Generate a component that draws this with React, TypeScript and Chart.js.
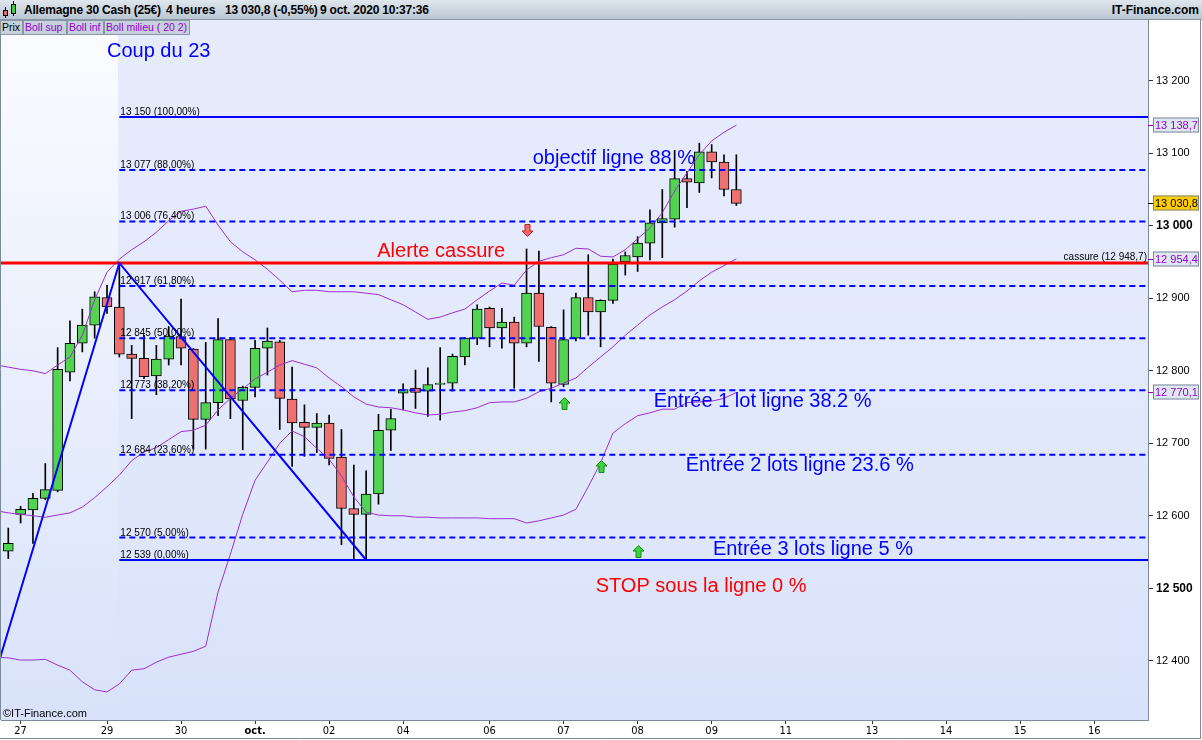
import React, { useEffect, useRef } from 'react';
import { Chart, registerables } from 'chart.js';

Chart.register(...registerables);

const FONT = '"Liberation Sans", Arial, sans-serif';
const NARROW = '"Liberation Sans Narrow", "DejaVu Sans Condensed", "Liberation Sans", Arial, sans-serif';

// ---- Candles (4h, index 0..59) ----
const opens = [12551, 12602, 12608, 12624, 12635, 12798, 12838, 12863, 12901, 12888,
  12823, 12817, 12793, 12816, 12847, 12830, 12733, 12756, 12843, 12759,
  12777, 12831, 12840, 12761, 12729, 12722, 12728, 12681, 12610, 12602,
  12630, 12718, 12769, 12776, 12772, 12781, 12783, 12819, 12845, 12886,
  12859, 12867, 12838, 12907, 12860, 12781, 12845, 12901, 12881, 12897,
  12950, 12957, 12976, 13004, 13009, 13065, 13059, 13102, 13088, 13050];
const highs = [12583, 12613, 12631, 12672, 12832, 12869, 12885, 12909, 12918, 12948.7,
  12835, 12849, 12835, 12861, 12899, 12831, 12839, 12872, 12846, 12779,
  12842, 12859, 12842, 12805, 12753, 12741, 12739, 12719, 12670, 12662,
  12740, 12747, 12782, 12801, 12804, 12832, 12823, 12846, 12891, 12888,
  12886, 12874, 12968, 12965, 12861, 12884, 12907, 12960, 12898, 12954,
  12964, 12985, 13022, 13050, 13104, 13075, 13114, 13112, 13098, 13098];
const lows = [12541, 12590, 12562, 12622, 12633, 12786, 12826, 12845, 12879, 12819,
  12734, 12789, 12767, 12808, 12808, 12692, 12692, 12738, 12734, 12691,
  12764, 12794, 12719, 12668, 12682, 12687, 12670, 12560, 12541, 12539,
  12616, 12690, 12746, 12748, 12737, 12732, 12772, 12808, 12836, 12833,
  12831, 12776, 12833, 12813, 12757, 12778, 12841, 12849, 12833, 12893,
  12932, 12937, 12953, 12956, 12998, 13025, 13046, 13066, 13041, 13028];
const closes = [12562, 12609, 12624, 12636, 12802, 12838, 12863, 12902, 12888, 12823,
  12817, 12792, 12816, 12848, 12831, 12733, 12756, 12843, 12761, 12777,
  12831, 12841, 12762, 12728, 12722, 12728, 12679, 12610, 12602, 12630,
  12718, 12734, 12774, 12770, 12781, 12783, 12820, 12845, 12885, 12859,
  12867, 12838, 12907, 12861, 12783, 12843, 12901, 12881, 12897, 12947,
  12959, 12976, 13004, 13010, 13065, 13060, 13102, 13088, 13050, 13030.8];

// ---- Bollinger (20, 2), index -1..59 ----
const bandStartIdx = -1;
const bollSup = [12808, 12805, 12802, 12800, 12796, 12808, 12819, 12849, 12898, 12936,
  12954, 12967, 12978, 12991, 13007, 13020, 13023, 13027, 13001, 12978,
  12964, 12953, 12940, 12925, 12909, 12911, 12911, 12909, 12909, 12909,
  12907, 12905, 12898, 12891, 12881, 12871, 12874, 12880, 12885, 12898,
  12910, 12921, 12918, 12939, 12951, 12956, 12960, 12969, 12968, 12958,
  12957, 12967, 12982, 12997, 13018, 13048, 13073, 13098, 13117, 13129, 13138.7];
const bollMid = [12607, 12604, 12602, 12600, 12598, 12601, 12604, 12612, 12625, 12640,
  12656, 12676, 12688, 12694, 12705, 12716, 12718, 12725, 12746, 12762,
  12775, 12789, 12798, 12808, 12814, 12809, 12804, 12790, 12778, 12764,
  12754, 12750, 12749, 12746, 12742, 12739, 12740, 12743, 12745, 12749,
  12756, 12757, 12757, 12762, 12771, 12776, 12783, 12790, 12805, 12819,
  12833, 12849, 12863, 12877, 12888, 12898, 12910, 12924, 12936, 12945, 12954.4];
const bollInf = [12405, 12404, 12401, 12401, 12402, 12394, 12387, 12371, 12360, 12357,
  12368, 12387, 12389, 12398, 12405, 12409, 12413, 12420, 12495, 12547,
  12602, 12649, 12674, 12700, 12717, 12709, 12693, 12678, 12655, 12626,
  12605, 12601, 12600, 12600, 12598, 12598, 12597, 12597, 12597, 12597,
  12596, 12596, 12596, 12590, 12593, 12597, 12601, 12609, 12640, 12673,
  12714, 12727, 12738, 12742, 12747, 12747, 12756, 12757, 12758, 12762, 12770.1];

// ---- Fibonacci retracement ----
const fibValues = [13150, 13077, 13006, 12917, 12845, 12773, 12684, 12570, 12539];
const fibPercents = ['100,00', '88,00', '76,40', '61,80', '50,00', '38,20', '23,60', '5,00', '0,00'];
const fibSolid = [true, false, false, false, false, false, false, false, true];
const fibStartIdx = 9;

// ---- Swing (trend) lines & break level ----
const swingIdx = [-1, 9, 29];
const swingVals = [12385, 12948.7, 12539];
const breakLevel = 12948.7;

// ---- Axes ----
const xMin = -0.59;
const xMax = 92.36;
const yMin = 12318.3;
const yMax = 13285.2;
const dateTickIdx = [1, 8, 14, 20, 26, 32, 39, 45, 51, 57, 63, 70, 76, 82, 88];
const dateTickLabels = ['27', '29', '30', 'oct.', '02', '04', '06', '07', '08', '09', '11', '13', '14', '15', '16'];
const yTicks = [12400, 12500, 12600, 12700, 12800, 12900, 13000, 13100, 13200];
const yBoldTicks = [12500, 13000];

// ---- Annotations ----
const noteTexts = ['Coup du 23', 'objectif ligne 88 %', 'Alerte cassure', 'Entrée 1 lot ligne 38.2 %',
  'Entrée 2 lots ligne 23.6 %', 'Entrée 3 lots ligne 5 %', 'STOP sous la ligne 0 %'];
const noteIdx = [8.0, 42.5, 29.9, 52.3, 54.9, 57.1, 47.6];
const noteVals = [13240, 13093, 12965, 12758, 12669, 12554, 12502];
const noteColors = ['#0000ff', '#0000ff', '#ff0000', '#0000ff', '#0000ff', '#0000ff', '#ff0000'];

const arrowIdx = [42, 45, 48, 51];
const arrowVals = [12994, 12755, 12668, 12551];
const arrowUp = [false, true, true, true];

function fmt(v: number, dec: number) {
  const s = v.toFixed(dec);
  const parts = s.split('.');
  const intp = parts[0].replace(/\B(?=(\d{3})+(?!\d))/g, ' ');
  return parts[1] ? intp + ',' + parts[1] : intp;
}

function drawArrow(ctx: CanvasRenderingContext2D, cx: number, cy: number, up: boolean) {
  const s = up ? 1 : -1;
  ctx.save();
  ctx.translate(Math.round(cx) + 0.5, Math.round(cy) + 0.5);
  ctx.beginPath();
  ctx.moveTo(0, -6 * s);
  ctx.lineTo(5.5, -0.5 * s);
  ctx.lineTo(2.5, -0.5 * s);
  ctx.lineTo(2.5, 6 * s);
  ctx.lineTo(-2.5, 6 * s);
  ctx.lineTo(-2.5, -0.5 * s);
  ctx.lineTo(-5.5, -0.5 * s);
  ctx.closePath();
  ctx.fillStyle = up ? '#3fd23f' : '#f26b6b';
  ctx.fill();
  ctx.strokeStyle = up ? '#138a13' : '#c02020';
  ctx.lineWidth = 1;
  ctx.stroke();
  ctx.restore();
}

const overlayPlugin = {
  id: 'overlay',
  beforeDraw(chart: any) {
    const { ctx, chartArea: a, scales } = chart;
    const x = scales.x;
    ctx.save();
    ctx.fillStyle = '#ffffff';
    ctx.fillRect(0, 0, chart.width, chart.height);
    const g = ctx.createLinearGradient(0, a.top, 0, a.bottom);
    g.addColorStop(0, '#fbfcff');
    g.addColorStop(1, '#d8e2fa');
    ctx.fillStyle = g;
    ctx.fillRect(a.left, a.top, a.right - a.left, a.bottom - a.top);
    const fx = Math.round(x.getPixelForValue(fibStartIdx)) - 1;
    const g2 = ctx.createLinearGradient(0, a.top, 0, a.bottom);
    g2.addColorStop(0, 'rgba(200,212,248,0.42)');
    g2.addColorStop(1, 'rgba(200,212,248,0.02)');
    ctx.fillStyle = g2;
    ctx.fillRect(fx, a.top, a.right - fx, a.bottom - a.top);
    ctx.restore();
  },
  afterDatasetsDraw(chart: any) {
    const { ctx, chartArea: a, scales } = chart;
    const x = scales.x;
    const y = scales.y;
    ctx.save();
    // fib labels
    ctx.font = '10px ' + FONT;
    ctx.fillStyle = '#000';
    ctx.textAlign = 'left';
    ctx.textBaseline = 'alphabetic';
    const fx = x.getPixelForValue(fibStartIdx);
    fibValues.forEach((v, i) => {
      ctx.fillText(fmt(v, 0) + ' (' + fibPercents[i] + '%)', fx + 1, y.getPixelForValue(v) - 2);
    });
    // break label
    ctx.textAlign = 'right';
    ctx.fillText('cassure (' + fmt(breakLevel, 1) + ')', a.right - 1, y.getPixelForValue(breakLevel) - 3);
    // annotations
    ctx.font = '20px ' + FONT;
    ctx.textAlign = 'left';
    ctx.textBaseline = 'middle';
    noteTexts.forEach((t, i) => {
      ctx.fillStyle = noteColors[i];
      ctx.fillText(t, x.getPixelForValue(noteIdx[i]), y.getPixelForValue(noteVals[i]));
    });
    // arrows
    arrowIdx.forEach((ix, i) => {
      drawArrow(ctx, x.getPixelForValue(ix), y.getPixelForValue(arrowVals[i]), arrowUp[i]);
    });
    // copyright
    ctx.font = '11px ' + FONT;
    ctx.fillStyle = '#000';
    ctx.textAlign = 'left';
    ctx.textBaseline = 'middle';
    ctx.fillText('©IT-Finance.com', a.left + 2, a.bottom - 6);
    ctx.restore();
  },
  afterDraw(chart: any) {
    const { ctx, chartArea: a, scales } = chart;
    const y = scales.y;
    ctx.save();
    // frame
    ctx.strokeStyle = '#7b8a99';
    ctx.lineWidth = 1;
    ctx.beginPath();
    ctx.moveTo(0.5, a.top);
    ctx.lineTo(0.5, a.bottom);
    ctx.moveTo(1200.5, 0);
    ctx.lineTo(1200.5, 739);
    ctx.moveTo(0, 738.5);
    ctx.lineTo(1201, 738.5);
    ctx.stroke();
    // value boxes
    const boxes = [
      { v: bollSup[bollSup.length - 1], bg: '#dfe7f1', fg: '#9400d3' },
      { v: closes[closes.length - 1], bg: '#ffcc00', fg: '#000000' },
      { v: bollMid[bollMid.length - 1], bg: '#dfe7f1', fg: '#9400d3' },
      { v: bollInf[bollInf.length - 1], bg: '#dfe7f1', fg: '#9400d3' },
    ];
    ctx.font = '11px ' + FONT;
    ctx.textBaseline = 'middle';
    ctx.textAlign = 'left';
    boxes.forEach((b) => {
      const py = Math.round(y.getPixelForValue(b.v));
      const x0 = a.right + 5;
      ctx.fillStyle = b.bg;
      ctx.fillRect(x0, py - 7.5, 46, 15);
      ctx.strokeStyle = '#7b8a99';
      ctx.strokeRect(x0 + 0.5, py - 7, 45, 14);
      ctx.strokeStyle = b.fg;
      ctx.beginPath();
      ctx.moveTo(a.right, py + 0.5);
      ctx.lineTo(x0, py + 0.5);
      ctx.stroke();
      ctx.fillStyle = b.fg;
      ctx.fillText(fmt(b.v, 1), x0 + 2, py + 0.5);
    });
    ctx.restore();
  },
};

export default function App() {
  const ref = useRef<HTMLCanvasElement>(null);

  useEffect(() => {
    document.body.style.margin = '0';
    Chart.defaults.font.family = FONT;
    const idx = opens.map((_, i) => i);
    const wickData = idx.map((i) => ({ x: i, y: [lows[i], highs[i]] }));
    const bodyData = idx.map((i) => ({ x: i, y: [opens[i], closes[i]] }));
    const bodyColors = idx.map((i) => (closes[i] >= opens[i] ? '#52d452' : '#ec7272'));
    const band = (arr: number[]) => arr.map((v, k) => ({ x: k + bandStartIdx, y: v }));
    const lineBase = { type: 'line', pointRadius: 0, fill: false, tension: 0 };

    const datasets: any[] = [
      {
        type: 'bar', data: wickData, backgroundColor: '#000', barThickness: 1,
        grouped: false, order: 10, borderWidth: 0,
      },
      {
        type: 'bar', data: bodyData, backgroundColor: bodyColors, borderColor: '#000',
        borderWidth: 1, borderSkipped: false, barThickness: 10, grouped: false, order: 9,
      },
      { ...lineBase, data: band(bollSup), borderColor: '#9b30d0', borderWidth: 1, order: 5 },
      { ...lineBase, data: band(bollInf), borderColor: '#9b30d0', borderWidth: 1, order: 5 },
      { ...lineBase, data: band(bollMid), borderColor: '#9b30d0', borderWidth: 1, order: 5 },
    ];
    fibValues.forEach((v, i) => {
      datasets.push({
        ...lineBase,
        data: [{ x: fibStartIdx, y: v }, { x: xMax, y: v }],
        borderColor: '#0000ff', borderWidth: 2,
        borderDash: fibSolid[i] ? [] : [6, 4], order: 4,
      });
    });
    datasets.push({
      ...lineBase,
      data: [{ x: xMin, y: breakLevel }, { x: xMax, y: breakLevel }],
      borderColor: '#ff0000', borderWidth: 3, order: 3,
    });
    datasets.push({
      ...lineBase,
      data: swingIdx.map((ix, i) => ({ x: ix, y: swingVals[i] })),
      borderColor: '#0000ff', borderWidth: 2, order: 2,
    });

    const chart = new Chart(ref.current as HTMLCanvasElement, {
      type: 'bar',
      data: { datasets },
      plugins: [overlayPlugin],
      options: {
        animation: false,
        responsive: false,
        devicePixelRatio: 1,
        events: [],
        layout: { padding: { top: 19, left: 1, right: 0, bottom: 0 } },
        plugins: { legend: { display: false }, tooltip: { enabled: false } },
        scales: {
          x: {
            type: 'linear', min: xMin, max: xMax, offset: false,
            afterBuildTicks: (s: any) => { s.ticks = dateTickIdx.map((v) => ({ value: v })); },
            afterFit: (s: any) => { s.height = 20; },
            grid: { offset: false, drawOnChartArea: false, drawTicks: true, tickLength: 4, tickColor: '#333' },
            border: { display: true, color: '#7b8a99' },
            ticks: {
              autoSkip: false, maxRotation: 0, padding: 1, color: '#000',
              callback: (v: any) => {
                const k = dateTickIdx.indexOf(Number(v));
                return k >= 0 ? dateTickLabels[k] : '';
              },
              font: (c: any) => ({
                family: NARROW, size: 11,
                weight: c.tick && c.tick.value === 20 ? 'bold' : 'normal',
              }),
            },
          },
          y: {
            type: 'linear', position: 'right', min: yMin, max: yMax,
            afterBuildTicks: (s: any) => { s.ticks = yTicks.map((v) => ({ value: v })); },
            afterFit: (s: any) => { s.width = 54; },
            grid: { offset: false, drawOnChartArea: false, drawTicks: true, tickLength: 5, tickColor: '#333' },
            border: { display: true, color: '#7b8a99' },
            ticks: {
              padding: 3, color: '#000',
              callback: (v: any) => fmt(Number(v), 0),
              font: (c: any) => {
                const b = c.tick && yBoldTicks.includes(c.tick.value);
                return { family: FONT, size: b ? 12 : 11, weight: b ? 'bold' : 'normal' };
              },
            },
          },
        },
      } as any,
    } as any);
    return () => chart.destroy();
  }, []);

  const tab = (left: number, width: number, color: string): React.CSSProperties => ({
    position: 'absolute', left, top: 20, width, height: 15, boxSizing: 'border-box',
    background: '#c6d1db', border: '1px solid #8797a6', color, font: '10.5px ' + FONT,
    lineHeight: '13px', paddingLeft: 1, whiteSpace: 'nowrap', overflow: 'hidden',
  });
  const hdr = (left: number): React.CSSProperties => ({
    position: 'absolute', left, top: 3, font: 'bold 12px ' + FONT, color: '#000', whiteSpace: 'pre',
  });

  return (
    <div style={{ position: 'relative', width: 1202, height: 740, overflow: 'hidden', background: '#fff' }}>
      <canvas ref={ref} width={1202} height={740} style={{ position: 'absolute', left: 0, top: 0, width: 1202, height: 740 }} />
      <div style={{
        position: 'absolute', left: 0, top: 0, width: 1202, height: 20, boxSizing: 'border-box',
        background: 'linear-gradient(#dfe6ed, #b9c7d3)', borderBottom: '1px solid #8797a6',
      }}>
        <div style={{ position: 'absolute', left: 5, top: 7, width: 1, height: 11, background: '#000' }} />
        <div style={{ position: 'absolute', left: 3, top: 10, width: 5, height: 6, background: '#ec6a6a', border: '1px solid #000', boxSizing: 'border-box' }} />
        <div style={{ position: 'absolute', left: 13, top: 1, width: 1, height: 15, background: '#000' }} />
        <div style={{ position: 'absolute', left: 11, top: 4, width: 5, height: 10, background: '#3fd23f', border: '1px solid #000', boxSizing: 'border-box' }} />
        <span style={{ ...hdr(24), letterSpacing: '-0.2px' }}>Allemagne 30 Cash (25€)</span>
        <span style={hdr(166)}>4 heures</span>
        <span style={{ ...hdr(225), letterSpacing: '-0.2px' }}>13 030,8 (-0,55%)</span>
        <span style={{ ...hdr(320), letterSpacing: '-0.2px' }}>9 oct. 2020 10:37:36</span>
        <span style={{ ...hdr(0), left: undefined, right: 3 }}>IT-Finance.com</span>
      </div>
      <div style={tab(0, 23, '#000')}>Prix</div>
      <div style={tab(23, 44, '#9400d3')}>Boll sup</div>
      <div style={tab(67, 37, '#9400d3')}>Boll inf</div>
      <div style={tab(104, 86, '#9400d3')}>Boll milieu ( 20 2)</div>
    </div>
  );
}
